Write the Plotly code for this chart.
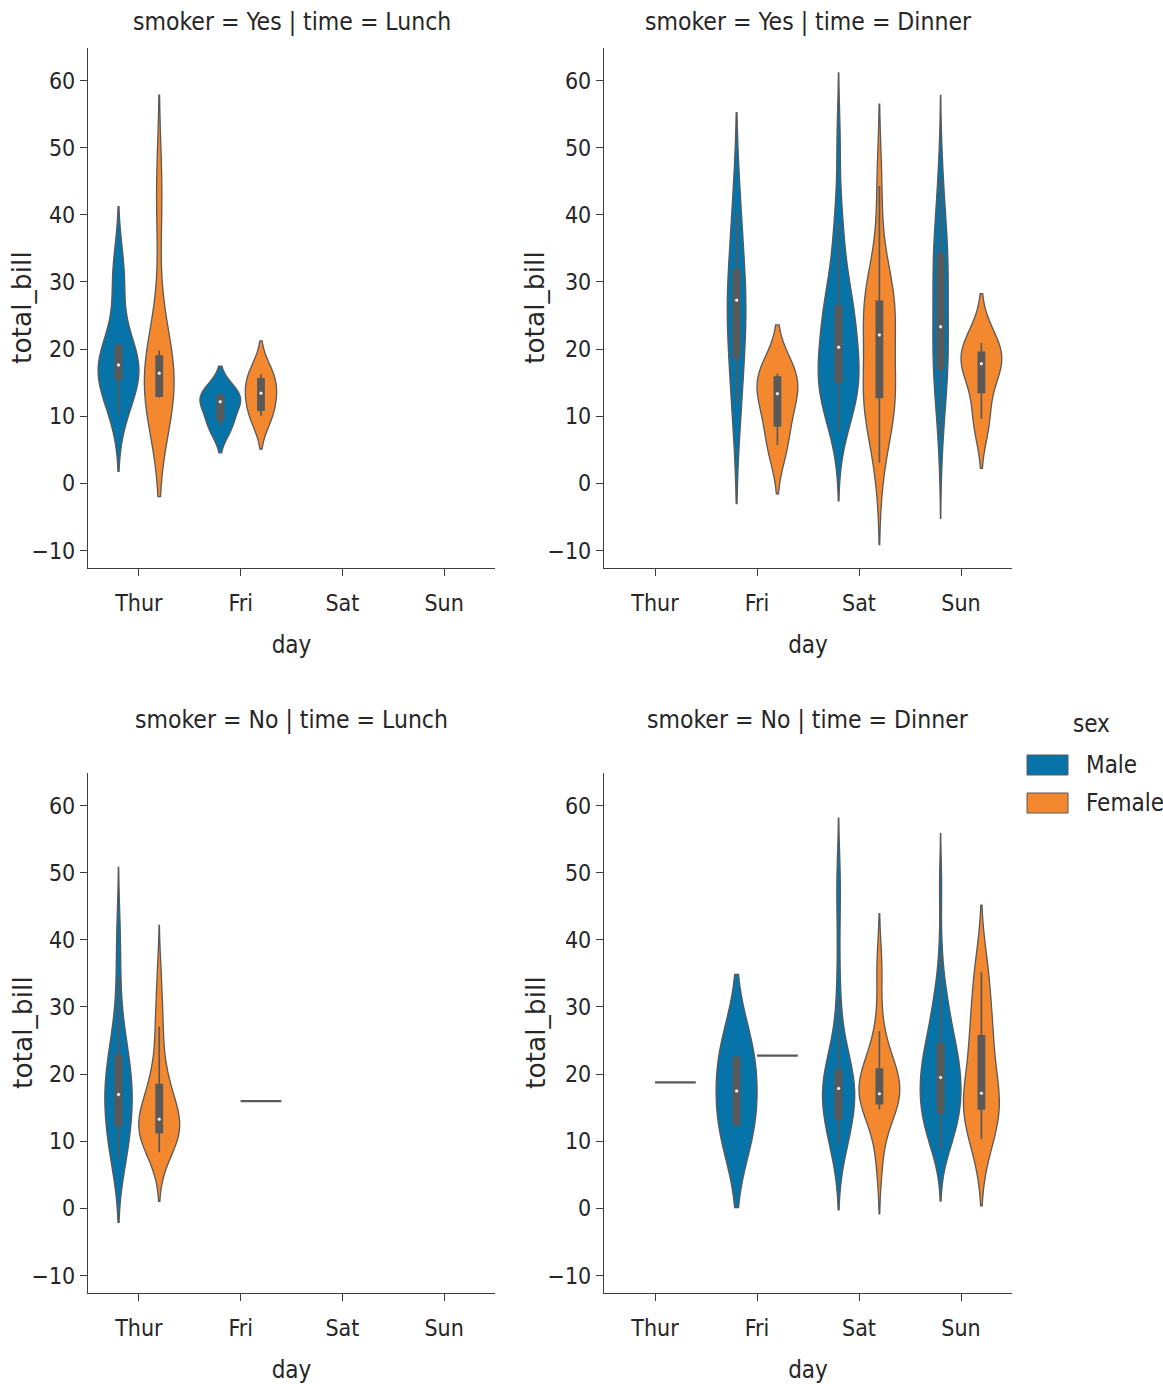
import numpy as np
import plotly.graph_objects as go

# ---------------- data (total_bill per group) ----------------
DAYS = ["Thur", "Fri", "Sat", "Sun"]
SEXES = ["Male", "Female"]
FACET_TITLES = ["smoker = Yes | time = Lunch", "smoker = Yes | time = Dinner",
                "smoker = No | time = Lunch", "smoker = No | time = Dinner"]

yes_lunch_thur_male = [19.44, 32.68, 16.00, 28.44, 15.48, 16.58, 10.34, 13.51, 18.71, 20.53]
yes_lunch_thur_female = [19.81, 43.11, 13.00, 12.74, 13.00, 16.40, 16.47]
yes_lunch_fri_male = [12.16, 8.58, 13.42]
yes_lunch_fri_female = [13.42, 16.27, 10.09]

yes_dinner_fri_male = [28.97, 40.17, 27.28, 12.03, 21.01]
yes_dinner_fri_female = [5.75, 16.32, 11.35, 15.38]
yes_dinner_sat_male = [38.01, 11.24, 20.29, 13.81, 11.02, 18.29, 15.01, 17.92, 15.36, 20.49,
                       25.21, 50.81, 15.81, 26.59, 38.73, 24.27, 30.06, 25.89, 28.15, 11.59,
                       7.74, 24.01, 15.69, 15.53, 12.60, 32.83, 22.67]
yes_dinner_sat_female = [3.07, 26.86, 25.28, 44.30, 22.42, 14.31, 10.59, 10.63, 12.76, 13.27,
                         28.17, 12.90, 30.14, 22.12, 27.18]
yes_dinner_sun_male = [7.25, 31.85, 16.82, 32.90, 17.89, 14.48, 34.63, 34.65, 23.33, 45.35,
                       23.17, 40.55, 30.46, 23.10, 15.69]
yes_dinner_sun_female = [17.51, 9.60, 20.90, 18.15]

no_lunch_thur_male = [27.20, 22.76, 17.29, 16.66, 15.98, 13.03, 18.28, 24.71, 21.16, 11.69,
                      14.26, 15.95, 8.52, 22.82, 19.08, 34.30, 41.19, 9.78, 7.51, 7.56]
no_lunch_thur_female = [10.07, 34.83, 10.65, 12.43, 24.08, 13.42, 12.48, 29.80, 14.52, 11.38,
                        20.27, 11.17, 12.26, 18.26, 8.51, 10.33, 14.15, 13.16, 17.47, 27.05,
                        16.43, 8.35, 18.64, 11.87]
no_lunch_fri_female = [15.98]

no_dinner_thur_female = [18.78]
no_dinner_fri_male = [22.49, 12.46]
no_dinner_fri_female = [22.75]
no_dinner_sat_male = [20.65, 17.92, 39.42, 19.82, 17.81, 13.37, 12.69, 21.70, 9.55, 18.35,
                      17.78, 24.06, 16.31, 18.69, 31.27, 16.04, 48.27, 17.59, 20.08, 20.23,
                      12.02, 10.51, 18.24, 14.00, 48.33, 20.45, 13.28, 11.61, 10.77, 10.07,
                      29.03, 17.82]
no_dinner_sat_female = [20.29, 15.77, 19.65, 15.06, 20.69, 16.93, 26.41, 16.45, 17.07, 14.73,
                        20.92, 7.25, 35.83]
no_dinner_sun_male = [10.34, 21.01, 23.68, 25.29, 8.77, 26.88, 15.04, 14.78, 10.27, 15.42,
                      18.43, 21.58, 16.29, 17.46, 13.94, 9.68, 30.40, 18.29, 22.23, 32.40,
                      28.55, 18.04, 12.54, 9.94, 25.56, 19.49, 38.07, 23.95, 29.93, 14.07,
                      13.13, 17.26, 24.55, 19.77, 48.17, 16.49, 21.50, 12.66, 13.81, 24.52,
                      20.76, 31.71, 20.69]
no_dinner_sun_female = [16.99, 24.59, 35.26, 14.83, 10.33, 16.97, 10.29, 34.81, 25.71, 17.31,
                        29.85, 25.00, 13.39, 16.21]

FACET_DATA = [
    {("Thur", "Male"): yes_lunch_thur_male, ("Thur", "Female"): yes_lunch_thur_female,
     ("Fri", "Male"): yes_lunch_fri_male, ("Fri", "Female"): yes_lunch_fri_female},
    {("Fri", "Male"): yes_dinner_fri_male, ("Fri", "Female"): yes_dinner_fri_female,
     ("Sat", "Male"): yes_dinner_sat_male, ("Sat", "Female"): yes_dinner_sat_female,
     ("Sun", "Male"): yes_dinner_sun_male, ("Sun", "Female"): yes_dinner_sun_female},
    {("Thur", "Male"): no_lunch_thur_male, ("Thur", "Female"): no_lunch_thur_female,
     ("Fri", "Female"): no_lunch_fri_female},
    {("Thur", "Female"): no_dinner_thur_female,
     ("Fri", "Male"): no_dinner_fri_male, ("Fri", "Female"): no_dinner_fri_female,
     ("Sat", "Male"): no_dinner_sat_male, ("Sat", "Female"): no_dinner_sat_female,
     ("Sun", "Male"): no_dinner_sun_male, ("Sun", "Female"): no_dinner_sun_female},
]

# ---------------- style ----------------
COLORS = {"Male": "#0674a8", "Female": "#f4882f"}
GRAY = "#595959"
AX = "#3d3d3d"
TXT = "#262626"
FONT = "Liberation Sans Narrow, DejaVu Sans Condensed, DejaVu Sans, sans-serif"
YFONT = "DejaVu Sans, sans-serif"
W, H = 1163, 1384
OFFS = {"Male": -0.2, "Female": 0.2}
VW = 0.4

XDOM = [[88 / W, 495 / W], [604 / W, 1012 / W]]
YDOM = [[1 - 568 / H, 1 - 48 / H], [1 - 1293 / H, 1 - 773 / H]]
YTITLE_X = [22 / W, 535 / W]

fig = go.Figure()

for k, data in enumerate(FACET_DATA, start=1):
    xa, ya = f"x{k}" if k > 1 else "x", f"y{k}" if k > 1 else "y"
    med_x, med_y = [], []
    for di, day in enumerate(DAYS):
        for sex in SEXES:
            vals = data.get((day, sex))
            if not vals:
                continue
            pos = di + OFFS[sex]
            arr = np.asarray(vals, dtype=float)
            if len(arr) == 1:
                fig.add_trace(go.Scatter(
                    x=[pos - VW / 2, pos + VW / 2], y=[arr[0], arr[0]], mode="lines",
                    line=dict(color=GRAY, width=2.2), xaxis=xa, yaxis=ya,
                    showlegend=False, hoverinfo="skip"))
                continue
            bw = float(np.std(arr, ddof=1) * len(arr) ** (-0.2))
            fig.add_trace(go.Violin(
                x=[pos] * len(arr), y=arr, xaxis=xa, yaxis=ya, name=sex,
                bandwidth=bw, spanmode="soft",
                scalemode="width", scalegroup=f"f{k}-{day}",
                fillcolor=COLORS[sex], line=dict(color=GRAY, width=1.3),
                points="outliers", marker=dict(opacity=0, size=1),
                box=dict(visible=True, width=0.15, fillcolor=GRAY,
                         line=dict(color=GRAY, width=1.7)),
                meanline=dict(visible=False), showlegend=False, hoverinfo="skip"))
            med_x.append(pos)
            med_y.append(float(np.median(arr)))
    fig.add_trace(go.Scatter(
        x=med_x, y=med_y, mode="markers", xaxis=xa, yaxis=ya,
        marker=dict(color="white", size=3.5, line=dict(color=GRAY, width=0.4)),
        showlegend=False, hoverinfo="skip"))

layout = dict(width=W, height=H, margin=dict(l=0, r=0, t=0, b=0),
              plot_bgcolor="white", paper_bgcolor="white",
              violinmode="overlay", violingap=0, violingroupgap=0,
              font=dict(family=FONT, color=TXT, size=23))

for k in range(1, 5):
    r, c = (k - 1) // 2, (k - 1) % 2
    sx = "" if k == 1 else str(k)
    layout[f"xaxis{sx}"] = dict(
        domain=XDOM[c], anchor=f"y{sx}", range=[-0.5, 3.5],
        tickmode="array", tickvals=list(range(len(DAYS))), ticktext=DAYS,
        showline=True, linecolor=AX, linewidth=1.3, ticks="outside", ticklen=7,
        tickwidth=1.3, tickcolor=AX, showgrid=False, zeroline=False,
        ticklabelstandoff=7,
        tickfont=dict(size=23, family=FONT, color=TXT),
        title=dict(text="day", font=dict(size=24, family=FONT, color=TXT), standoff=21),
        automargin=False)
    layout[f"yaxis{sx}"] = dict(
        domain=YDOM[r], anchor=f"x{sx}", range=[-12.6, 64.85], dtick=10, tick0=0,
        showline=True, linecolor=AX, linewidth=1.3, ticks="outside", ticklen=7,
        tickwidth=1.3, tickcolor=AX, showgrid=False, zeroline=False,
        tickfont=dict(size=23, family=FONT, color=TXT),
        automargin=False)

annotations = []
for k, title in enumerate(FACET_TITLES):
    r, c = k // 2, k % 2
    annotations.append(dict(
        text=title, xref="paper", yref="paper",
        x=(XDOM[c][0] + XDOM[c][1]) / 2, y=1 - (22 if r == 0 else 719) / H,
        xanchor="center", yanchor="middle", showarrow=False,
        font=dict(size=24.5, family=FONT, color=TXT)))
    # y-axis title of the facet
    annotations.append(dict(
        text="total_bill", xref="paper", yref="paper", textangle=-90,
        x=YTITLE_X[c], y=(YDOM[r][0] + YDOM[r][1]) / 2,
        xanchor="center", yanchor="middle", showarrow=False,
        font=dict(size=26.5, family=YFONT, color=TXT)))

# legend (hue = sex)
annotations.append(dict(text="sex", xref="paper", yref="paper", x=1091 / W, y=1 - 724 / H,
                        xanchor="center", yanchor="middle", showarrow=False,
                        font=dict(size=24, family=FONT, color=TXT)))
shapes = []
for i, sex in enumerate(SEXES):
    yc = 765 + 38 * i
    shapes.append(dict(type="rect", xref="paper", yref="paper",
                       x0=1027 / W, x1=1068 / W, y0=1 - (yc + 10) / H, y1=1 - (yc - 10) / H,
                       fillcolor=COLORS[sex], line=dict(color=GRAY, width=1)))
    annotations.append(dict(text=sex, xref="paper", yref="paper", x=1084 / W, y=1 - yc / H,
                            xanchor="left", yanchor="middle", showarrow=False,
                            font=dict(size=24, family=FONT, color=TXT)))

layout["annotations"] = annotations
layout["shapes"] = shapes
fig.update_layout(**layout)

fig.write_html("out.html", config={"displayModeBar": False},
               post_script="document.body.style.margin='0';")
